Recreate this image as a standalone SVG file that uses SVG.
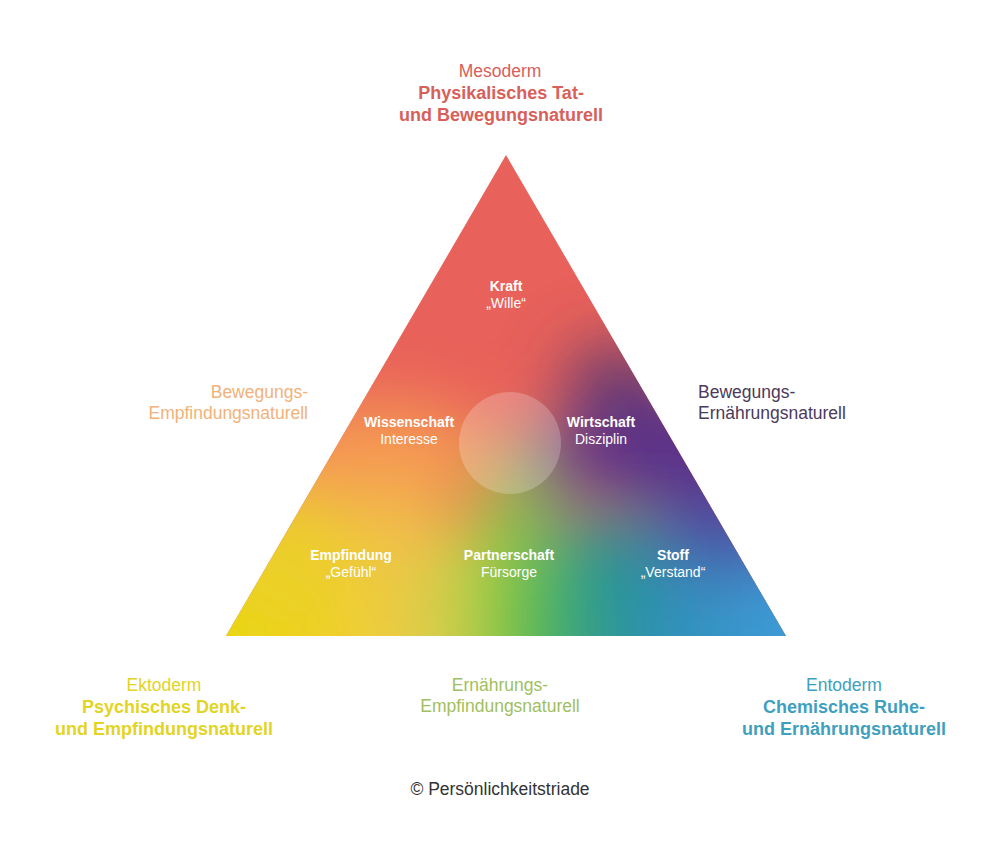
<svg xmlns="http://www.w3.org/2000/svg" width="1000" height="859" viewBox="0 0 1000 859">
<defs>
<clipPath id="tri"><polygon points="506,155 226,636 786,636"/></clipPath>
<filter id="blur" x="-50%" y="-50%" width="200%" height="200%"><feGaussianBlur stdDeviation="32"/></filter>
<linearGradient id="base" x1="226" y1="0" x2="786" y2="0" gradientUnits="userSpaceOnUse">
<stop offset="0" stop-color="#e9d60e"/>
<stop offset="0.17" stop-color="#eed21c"/>
<stop offset="0.3" stop-color="#efc94a"/>
<stop offset="0.42" stop-color="#c6d04a"/>
<stop offset="0.53" stop-color="#5cc043"/>
<stop offset="0.66" stop-color="#2b9a8c"/>
<stop offset="0.78" stop-color="#2f8fb8"/>
<stop offset="1" stop-color="#3f9bd8"/>
</linearGradient>
<style>
text{font-family:"Liberation Sans",Arial,sans-serif;text-anchor:middle}
.b{font-weight:bold}
.in{fill:#ffffff;font-size:14px}
.lab{font-size:17.5px}
.hd{font-size:18px;font-weight:bold}
</style>
</defs>
<rect width="1000" height="859" fill="#ffffff"/>
<g id="triangle">
<g clip-path="url(#tri)">
<rect x="200" y="140" width="600" height="510" fill="#e8615a"/>
<g filter="url(#blur)">
<rect x="120" y="520" width="760" height="220" fill="url(#base)"/>
<ellipse cx="290" cy="545" rx="80" ry="70" fill="#eccf2a"/>
<ellipse cx="380" cy="455" rx="110" ry="55" fill="#f59a52"/>
<ellipse cx="400" cy="530" rx="50" ry="40" fill="#f2bf48"/>
<ellipse cx="515" cy="510" rx="28" ry="70" fill="#86c64a"/>
<ellipse cx="620" cy="560" rx="35" ry="45" fill="#2a9098"/>
<ellipse cx="730" cy="535" rx="70" ry="40" fill="#4a52aa"/>
<ellipse cx="680" cy="450" rx="110" ry="60" fill="#5a338a"/>
<ellipse cx="615" cy="380" rx="50" ry="35" fill="#5e3a70"/>
<ellipse cx="560" cy="460" rx="28" ry="40" fill="#6a3a8a"/>
</g>
</g>
<circle cx="510" cy="443" r="51" fill="#ffffff" fill-opacity="0.22"/>
</g>
<g id="kraft"><text class="in b" x="506" y="291">Kraft</text><text class="in" x="506" y="308">„Wille“</text></g>
<g id="wissenschaft"><text class="in b" x="409" y="427">Wissenschaft</text><text class="in" x="409" y="444">Interesse</text></g>
<g id="wirtschaft"><text class="in b" x="601" y="427">Wirtschaft</text><text class="in" x="601" y="444">Disziplin</text></g>
<g id="empfindung"><text class="in b" x="351" y="560">Empfindung</text><text class="in" x="351" y="577">„Gefühl“</text></g>
<g id="partnerschaft"><text class="in b" x="509" y="560">Partnerschaft</text><text class="in" x="509" y="577">Fürsorge</text></g>
<g id="stoff"><text class="in b" x="673" y="560">Stoff</text><text class="in" x="673" y="577">„Verstand“</text></g>
<g id="mesoderm" fill="#d8605a"><text class="lab" x="500" y="77">Mesoderm</text><text class="hd" x="501" y="99">Physikalisches Tat-</text><text class="hd" x="501" y="121">und Bewegungsnaturell</text></g>
<g id="bew-empf" fill="#f1b27a"><text class="lab" x="308" y="398" style="text-anchor:end">Bewegungs-</text><text class="lab" x="308" y="419" style="text-anchor:end">Empfindungsnaturell</text></g>
<g id="bew-ern" fill="#4b3a5c"><text class="lab" x="698" y="398" style="text-anchor:start">Bewegungs-</text><text class="lab" x="698" y="419" style="text-anchor:start">Ernährungsnaturell</text></g>
<g id="ektoderm" fill="#e2d424"><text class="lab" x="164" y="691">Ektoderm</text><text class="hd" x="164" y="713">Psychisches Denk-</text><text class="hd" x="164" y="735">und Empfindungsnaturell</text></g>
<g id="ern-empf" fill="#9fc060"><text class="lab" x="500" y="691">Ernährungs-</text><text class="lab" x="500" y="712">Empfindungsnaturell</text></g>
<g id="entoderm" fill="#3f9fbe"><text class="lab" x="844" y="691">Entoderm</text><text class="hd" x="844" y="713">Chemisches Ruhe-</text><text class="hd" x="844" y="735">und Ernährungsnaturell</text></g>
<g id="copyright"><text class="lab" x="500" y="795" fill="#333333">© Persönlichkeitstriade</text></g>
</svg>
